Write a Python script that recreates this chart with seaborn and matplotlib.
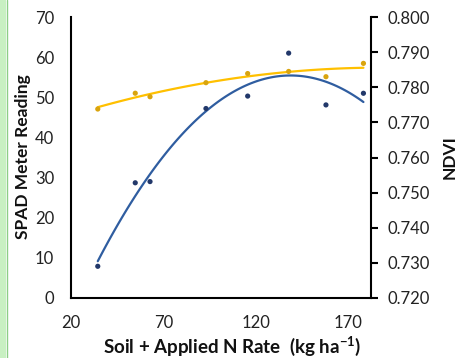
import numpy as np
import pandas as pd
import matplotlib
matplotlib.use("Agg")
import matplotlib.pyplot as plt
import seaborn as sns
from matplotlib.patches import Rectangle
from matplotlib.lines import Line2D

# Data
n_rate = [34.5, 54.8, 62.8, 93.1, 115.7, 137.9, 158.1, 178.4]
spad = [7.9, 28.7, 29.0, 47.2, 50.3, 61.0, 48.1, 51.0]
ndvi = [0.7738, 0.7783, 0.7773, 0.7813, 0.7839, 0.7845, 0.7830, 0.7868]
x_ticks = [20, 70, 120, 170]
spad_ticks = [0, 10, 20, 30, 40, 50, 60, 70]
ndvi_ticks = [0.720, 0.730, 0.740, 0.750, 0.760, 0.770, 0.780, 0.790, 0.800]

df = pd.DataFrame({"N": n_rate, "SPAD": spad, "NDVI": ndvi})

sns.set_theme(style="white")
plt.rcParams["font.family"] = ["Lato", "DejaVu Sans"]
plt.rcParams["mathtext.fontset"] = "custom"
plt.rcParams["mathtext.rm"] = "Lato"
plt.rcParams["mathtext.bf"] = "Lato:bold"

W, H = 459, 358
fig = plt.figure(figsize=(W/100, H/100), dpi=100)
ax = fig.add_axes([71/W, 1-298/H, 300/W, 281/H])
ax2 = ax.twinx()

blue_pt = "#22386A"
blue_ln = "#2F5DA0"
gold_pt = "#D9A40E"
gold_ln = "#FFC000"

sns.regplot(data=df, x="N", y="SPAD", order=2, ci=None, scatter=False, ax=ax,
            line_kws=dict(color=blue_ln, lw=1.6))
sns.scatterplot(data=df, x="N", y="SPAD", ax=ax, color=blue_pt, s=14,
                edgecolor="none", zorder=5)
sns.regplot(data=df, x="N", y="NDVI", order=2, ci=None, scatter=False, ax=ax2,
            line_kws=dict(color=gold_ln, lw=1.6))
sns.scatterplot(data=df, x="N", y="NDVI", ax=ax2, color=gold_pt, s=14,
                edgecolor="none", zorder=5)

ax.set_xlim(20, 182.5)
ax.set_ylim(0, 70)
ax2.set_ylim(0.720, 0.800)
ax.set_xticks(x_ticks)
ax.set_yticks(spad_ticks)
ax2.set_yticks(ndvi_ticks)
ax2.set_yticklabels([f"{t:.3f}" for t in ndvi_ticks])

for a in (ax, ax2):
    a.patch.set_visible(False)
    a.grid(False)
    for s in a.spines.values():
        s.set_visible(False)
ax.spines["left"].set_visible(True)
ax.spines["bottom"].set_visible(True)
ax2.spines["right"].set_visible(True)
for s in (ax.spines["left"], ax.spines["bottom"], ax2.spines["right"]):
    s.set_color("black")
    s.set_linewidth(1.5)

ax.tick_params(axis="y", left=False, length=0, pad=12, labelsize=12, colors="#222222")
ax.tick_params(axis="x", bottom=False, length=0, pad=12, labelsize=12, colors="#222222")
ax2.tick_params(axis="y", right=True, length=5, width=1.5, direction="out", pad=7,
                labelsize=12, colors="black", labelcolor="#222222")

ax.set_xlabel("")
ax.set_ylabel("")
ax2.set_ylabel("")

lab = dict(fontweight="bold", color="#111111", ha="center", va="center")
fig.text(232/W, 1-346/H, "Soil + Applied N Rate  (kg ha$^{\\mathbf{-1}}$)",
         fontsize=13.5, **lab)
fig.text(23/W, 1-157/H, "SPAD Meter Reading", rotation=90, fontsize=12.5, **lab)
fig.text(450/W, 1-157/H, "NDVI", rotation=90, fontsize=12.5, **lab)

# green left border of the original panel
fig.patches.append(Rectangle((0, 0), 6/W, 1, transform=fig.transFigure,
                             facecolor="#C8F0C2", edgecolor="none"))
fig.lines.append(Line2D([6.5/W, 6.5/W], [0, 1], transform=fig.transFigure,
                        color="#8CCF86", lw=1))

fig.savefig("out.png", dpi=100)
